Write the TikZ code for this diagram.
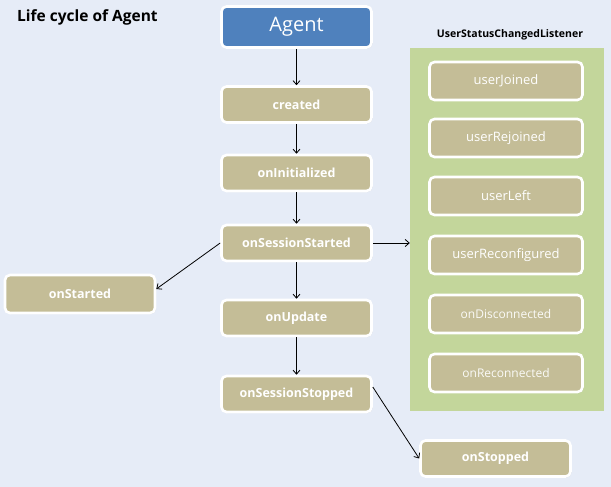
\documentclass[tikz,border=0pt]{standalone}
\usepackage{fontspec}
\setmainfont{Open Sans}
\usetikzlibrary{arrows.meta, shadows}
\definecolor{bgblue}{HTML}{E6ECF7}
\definecolor{boxtan}{HTML}{C4BD97}
\definecolor{agentblue}{HTML}{4F81BD}
\definecolor{panelgreen}{HTML}{C3D69B}

\begin{document}
\begin{tikzpicture}[x=1pt, y=1pt,
  box/.style = {draw=white, line width=2.6pt, rounded corners=5pt, fill=boxtan,
    text=white, minimum width=150pt, minimum height=36pt, inner sep=0pt,
    drop shadow={opacity=0.25, shadow xshift=1pt, shadow yshift=-1pt}},
  stage/.style = {box, font=\fontsize{12.5}{14}\selectfont\bfseries},
  listen/.style = {box, minimum width=153pt, minimum height=38pt, font=\fontsize{13}{15}\selectfont},
  listenlight/.style = {listen, text=white!92!boxtan, font=\fontsize{12}{14}\selectfont},
  flow/.style = {-{Straight Barb[length=4pt, width=7pt]}, line width=0.8pt}]
\fill[bgblue] (0,0) rectangle (611,-487);
\useasboundingbox (0,0) rectangle (611,-487);

\node[anchor=west, inner sep=0pt, font=\fontsize{15.5}{17}\selectfont\bfseries] (title) at (17,-17) {Life cycle of Agent};

\node[box, fill=agentblue, minimum height=41pt, font=\fontsize{20}{22}\selectfont] (agent) at (296.5,-27) {Agent};
\node[stage] (created) at (296.5,-104.5) {created};
\node[stage] (init) at (296.5,-173) {onInitialized};
\node[stage] (sstart) at (296.5,-243) {onSessionStarted};
\node[stage] (update) at (296.5,-318) {onUpdate};
\node[stage] (sstop) at (296.5,-394) {onSessionStopped};
\node[stage, minimum height=38pt] (started) at (80,-294) {onStarted};
\node[stage, minimum height=36pt] (stopped) at (495.5,-458.5) {onStopped};

\node[fill=panelgreen, minimum width=194pt, minimum height=363pt, inner sep=0pt] (panel) at (507,-229.5) {};
\node[font=\fontsize{10.5}{12}\selectfont\bfseries] (paneltitle) at (510,-35) {UserStatusChangedListener};
\node[listen] (joined) at (506,-81) {userJoined};
\node[listen] (rejoined) at (506,-138) {userRejoined};
\node[listen] (left) at (506,-196) {userLeft};
\node[listen] (reconf) at (506,-255) {userReconfigured};
\node[listenlight] (disc) at (506,-314) {onDisconnected};
\node[listenlight] (reconn) at (506,-373) {onReconnected};

\draw[flow] (agent) -- (created);
\draw[flow] (created) -- (init);
\draw[flow] (init) -- (sstart);
\draw[flow] (sstart) -- (update);
\draw[flow] (update) -- (sstop);
\draw[flow] (sstart.west) -- ([yshift=5pt]started.east);
\draw[flow] (sstart.east) -- (sstart.east -| panel.west);
\draw[flow] ([yshift=7pt]sstop.east) -- (stopped.west);
\end{tikzpicture}
\end{document}
